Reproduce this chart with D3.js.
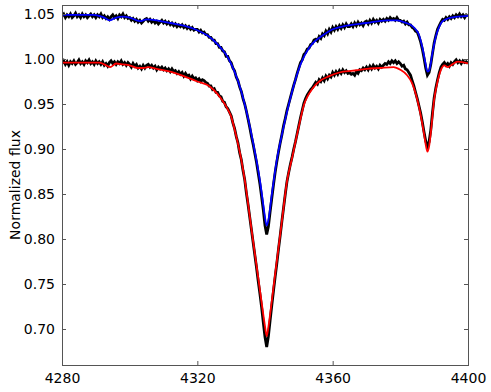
<!DOCTYPE html>
<html>
<head>
<meta charset="utf-8">
<script src="https://cdn.jsdelivr.net/npm/d3@7"></script>
<style>
  body { margin: 0; background: #fff; }
  svg { display: block; }
  text { font-family: "DejaVu Sans", sans-serif; }
</style>
</head>
<body>
<div id="chart"></div>
<script>
(function () {
    'use strict';

    // wavelength grid of the observed spectra (Angstrom)
    var obsStart = 4280;
    var obsStep = 0.5;

    // observed spectrum, lower one (normalized flux)
    var obsLower = [
        0.995, 0.998, 0.994, 0.997, 0.993, 0.997, 0.995, 0.998, 0.994, 0.996,
        0.999, 0.995, 0.997, 0.994, 0.998, 0.996, 0.999, 0.995, 0.997, 0.994,
        0.998, 0.995, 0.997, 0.994, 0.997, 0.993, 0.995, 0.992, 0.996, 0.998,
        0.995, 0.997, 0.994, 0.997, 0.995, 0.998, 0.994, 0.996, 0.993, 0.996,
        0.994, 0.991, 0.995, 0.992, 0.994, 0.990, 0.992, 0.989, 0.993, 0.990,
        0.993, 0.994, 0.991, 0.993, 0.990, 0.992, 0.988, 0.991, 0.989, 0.991,
        0.988, 0.990, 0.987, 0.989, 0.986, 0.989, 0.986, 0.987, 0.984, 0.986,
        0.983, 0.985, 0.981, 0.984, 0.981, 0.982, 0.978, 0.981, 0.978, 0.979,
        0.976, 0.978, 0.975, 0.977, 0.976, 0.974, 0.973, 0.970, 0.970, 0.966,
        0.967, 0.963, 0.963, 0.959, 0.958, 0.953, 0.952, 0.947, 0.945, 0.941,
        0.937, 0.929, 0.923, 0.914, 0.907, 0.896, 0.888, 0.876, 0.866, 0.851,
        0.838, 0.824, 0.810, 0.796, 0.782, 0.768, 0.753, 0.739, 0.724, 0.707,
        0.691, 0.680, 0.692, 0.709, 0.726, 0.742, 0.758, 0.773, 0.789, 0.804,
        0.820, 0.835, 0.850, 0.864, 0.874, 0.883, 0.891, 0.900, 0.908, 0.917,
        0.926, 0.935, 0.943, 0.951, 0.956, 0.960, 0.963, 0.966, 0.968, 0.971,
        0.974, 0.972, 0.977, 0.975, 0.979, 0.976, 0.981, 0.978, 0.982, 0.980,
        0.985, 0.982, 0.986, 0.983, 0.987, 0.984, 0.988, 0.985, 0.987, 0.984,
        0.985, 0.983, 0.984, 0.982, 0.986, 0.984, 0.988, 0.987, 0.990, 0.988,
        0.991, 0.988, 0.992, 0.989, 0.993, 0.990, 0.992, 0.989, 0.993, 0.991,
        0.993, 0.995, 0.994, 0.997, 0.995, 0.998, 0.996, 0.998, 0.995, 0.997,
        0.995, 0.992, 0.993, 0.989, 0.988, 0.985, 0.982, 0.976, 0.970, 0.963,
        0.956, 0.948, 0.940, 0.930, 0.919, 0.909, 0.903, 0.908, 0.921, 0.940,
        0.957, 0.968, 0.977, 0.985, 0.991, 0.994, 0.996, 0.993, 0.995, 0.992,
        0.996, 0.994, 0.997, 0.999, 0.996, 0.998, 0.995, 0.998, 0.996, 0.997,
        0.995
    ];

    // observed spectrum, upper one (shifted by +0.05)
    var obsUpper = [
        1.048, 1.050, 1.046, 1.049, 1.047, 1.050, 1.046, 1.048, 1.051, 1.047,
        1.049, 1.046, 1.050, 1.047, 1.049, 1.046, 1.048, 1.050, 1.047, 1.049,
        1.046, 1.049, 1.047, 1.050, 1.046, 1.048, 1.045, 1.047, 1.044, 1.047,
        1.049, 1.046, 1.048, 1.045, 1.049, 1.047, 1.050, 1.046, 1.048, 1.045,
        1.046, 1.043, 1.045, 1.042, 1.044, 1.041, 1.043, 1.040, 1.042, 1.044,
        1.045, 1.042, 1.044, 1.041, 1.043, 1.040, 1.042, 1.039, 1.041, 1.043,
        1.040, 1.042, 1.039, 1.041, 1.038, 1.040, 1.037, 1.039, 1.036, 1.038,
        1.036, 1.038, 1.035, 1.037, 1.034, 1.036, 1.033, 1.035, 1.032, 1.033,
        1.033, 1.030, 1.032, 1.029, 1.030, 1.027, 1.027, 1.024, 1.024, 1.021,
        1.021, 1.017, 1.017, 1.013, 1.013, 1.009, 1.008, 1.003, 1.003, 0.998,
        0.996, 0.990, 0.987, 0.980, 0.976, 0.969, 0.964, 0.956, 0.950, 0.942,
        0.933, 0.924, 0.914, 0.905, 0.895, 0.885, 0.873, 0.861, 0.847, 0.832,
        0.815, 0.805, 0.814, 0.830, 0.845, 0.860, 0.874, 0.886, 0.897, 0.907,
        0.916, 0.926, 0.934, 0.943, 0.950, 0.957, 0.964, 0.971, 0.977, 0.984,
        0.990, 0.996, 0.999, 1.005, 1.007, 1.011, 1.012, 1.016, 1.017, 1.021,
        1.022, 1.020, 1.025, 1.023, 1.028, 1.026, 1.031, 1.028, 1.033, 1.030,
        1.035, 1.032, 1.036, 1.033, 1.037, 1.034, 1.038, 1.035, 1.039, 1.036,
        1.036, 1.039, 1.036, 1.040, 1.037, 1.041, 1.038, 1.040, 1.037, 1.041,
        1.042, 1.039, 1.043, 1.040, 1.044, 1.041, 1.043, 1.040, 1.044, 1.042,
        1.044, 1.042, 1.045, 1.043, 1.046, 1.044, 1.045, 1.043, 1.046, 1.043,
        1.043, 1.041, 1.042, 1.039, 1.041, 1.038, 1.038, 1.035, 1.034, 1.031,
        1.030, 1.025, 1.019, 1.011, 1.001, 0.990, 0.982, 0.985, 0.994, 1.006,
        1.018, 1.026, 1.033, 1.037, 1.041, 1.044, 1.043, 1.046, 1.044, 1.047,
        1.045, 1.048, 1.046, 1.049, 1.047, 1.050, 1.047, 1.049, 1.046, 1.049,
        1.048
    ];

    // model fit, lower spectrum: [wavelength, flux]
    var modelLower = [
        [4280, 0.996], [4286, 0.996], [4291, 0.996], [4292.5, 0.994], [4294.2, 0.991],
        [4296, 0.995], [4298, 0.994], [4300, 0.993], [4302.5, 0.990], [4304, 0.990],
        [4305.5, 0.991], [4308, 0.989], [4312, 0.986], [4316, 0.981], [4320, 0.975],
        [4323, 0.971], [4325, 0.965], [4327, 0.956], [4329, 0.944], [4330, 0.936],
        [4331, 0.922], [4332, 0.906], [4333, 0.888], [4334, 0.866], [4336, 0.811],
        [4338, 0.757], [4339.5, 0.716], [4340, 0.703], [4340.5, 0.692], [4341, 0.702],
        [4341.5, 0.716], [4343, 0.761], [4345, 0.820], [4346.5, 0.864], [4348, 0.890],
        [4350, 0.925], [4351.5, 0.949], [4352.5, 0.958], [4354, 0.967], [4356, 0.975],
        [4359, 0.981], [4362, 0.985], [4366, 0.987], [4370, 0.989], [4374, 0.990],
        [4378, 0.991], [4380, 0.988], [4382, 0.982], [4383.5, 0.973], [4385, 0.955],
        [4386, 0.938], [4387, 0.917], [4387.5, 0.905], [4388, 0.897], [4388.5, 0.903],
        [4389, 0.918], [4390, 0.955], [4391, 0.975], [4392, 0.988], [4393, 0.993],
        [4394, 0.991], [4395, 0.993], [4397, 0.997], [4400, 0.995]
    ];

    // model fit, upper spectrum
    var modelUpper = [
        [4280, 1.049], [4289, 1.049], [4291, 1.048], [4292.5, 1.046], [4294, 1.043],
        [4296, 1.046], [4298, 1.047], [4300, 1.046], [4303, 1.042], [4305, 1.044],
        [4308, 1.043], [4312, 1.040], [4316, 1.037], [4320, 1.032], [4323, 1.026],
        [4325, 1.020], [4327, 1.012], [4329, 1.002], [4331, 0.986], [4333, 0.964],
        [4335, 0.934], [4337, 0.897], [4338.5, 0.865], [4339.5, 0.838], [4340, 0.824],
        [4340.5, 0.815], [4341, 0.821], [4342, 0.849], [4343.5, 0.888], [4345, 0.916],
        [4347, 0.949], [4349, 0.977], [4350.5, 0.994], [4352, 1.006], [4354, 1.017],
        [4357, 1.026], [4360, 1.033], [4364, 1.037], [4370, 1.040], [4376, 1.043],
        [4379, 1.043], [4381, 1.041], [4383, 1.038], [4384.5, 1.033], [4385.5, 1.027],
        [4386.5, 1.013], [4387.5, 0.994], [4388, 0.986], [4388.5, 0.987], [4389.5, 1.007],
        [4390.5, 1.025], [4391.5, 1.036], [4392.5, 1.042], [4394, 1.045], [4397, 1.047],
        [4400, 1.048]
    ];

    var xTicks = [4280, 4320, 4360, 4400];
    var yTicks = [0.70, 0.75, 0.80, 0.85, 0.90, 0.95, 1.00, 1.05];
    var yLabel = 'Normalized flux';

    var width = 491;
    var height = 392;
    var margin = { top: 5, right: 23, bottom: 27, left: 62 };
    var innerW = width - margin.left - margin.right;
    var innerH = height - margin.top - margin.bottom;
    var fontSize = '14px';

    var svg = d3.select('#chart').append('svg')
        .attr('width', width)
        .attr('height', height);

    var x = d3.scaleLinear().domain([4280, 4400]).range([0, innerW]);
    var y = d3.scaleLinear().domain([0.66, 1.06]).range([innerH, 0]);

    var g = svg.append('g')
        .attr('transform', 'translate(' + margin.left + ',' + margin.top + ')');

    g.append('clipPath').attr('id', 'plot-clip')
        .append('rect').attr('width', innerW).attr('height', innerH);

    var toPairs = function (arr) {
        return arr.map(function (v, i) { return [obsStart + i * obsStep, v]; });
    };

    var obsLine = d3.line()
        .x(function (d) { return x(d[0]); })
        .y(function (d) { return y(d[1]); });

    var modelLine = d3.line()
        .x(function (d) { return x(d[0]); })
        .y(function (d) { return y(d[1]); })
        .curve(d3.curveMonotoneX);

    var plot = g.append('g').attr('clip-path', 'url(#plot-clip)');

    var series = [
        { obs: obsLower, model: modelLower, color: '#ff0000' },
        { obs: obsUpper, model: modelUpper, color: '#0000ff' }
    ];

    series.forEach(function (s) {
        plot.append('path')
            .datum(toPairs(s.obs))
            .attr('fill', 'none')
            .attr('stroke', '#000')
            .attr('stroke-width', 2.8)
            .attr('stroke-linejoin', 'miter')
            .attr('d', obsLine);

        plot.append('path')
            .datum(s.model)
            .attr('fill', 'none')
            .attr('stroke', s.color)
            .attr('stroke-width', 1.8)
            .attr('d', modelLine);
    });

    // axes: ticks point inward, mirrored on top and right
    var tickLen = 4;
    var fmtY = d3.format('.2f');
    var fmtX = d3.format('d');

    var xAxis = g.append('g')
        .attr('transform', 'translate(0,' + innerH + ')')
        .call(d3.axisBottom(x).tickValues(xTicks).tickSizeInner(-tickLen).tickSizeOuter(0).tickPadding(8).tickFormat(fmtX));
    var xTop = g.append('g')
        .call(d3.axisTop(x).tickValues(xTicks).tickSizeInner(-tickLen).tickSizeOuter(0).tickFormat(''));
    var yAxis = g.append('g')
        .call(d3.axisLeft(y).tickValues(yTicks).tickSizeInner(-tickLen).tickSizeOuter(0).tickPadding(7).tickFormat(fmtY));
    var yRight = g.append('g')
        .attr('transform', 'translate(' + innerW + ',0)')
        .call(d3.axisRight(y).tickValues(yTicks).tickSizeInner(-tickLen).tickSizeOuter(0).tickFormat(''));

    [xAxis, xTop, yAxis, yRight].forEach(function (a) {
        a.select('.domain').remove();
        a.selectAll('line').attr('stroke', '#555');
        a.selectAll('text')
            .attr('fill', '#000')
            .style('font-size', fontSize)
            .style('font-family', '"DejaVu Sans", sans-serif');
    });

    g.append('rect')
        .attr('x', 0.5).attr('y', 0.5)
        .attr('width', innerW).attr('height', innerH)
        .attr('fill', 'none')
        .attr('stroke', '#555')
        .attr('stroke-width', 1);

    svg.append('text')
        .attr('transform', 'translate(15,' + (margin.top + innerH / 2) + ') rotate(-90)')
        .attr('text-anchor', 'middle')
        .attr('dy', '0.35em')
        .style('font-size', fontSize)
        .text(yLabel);
})();
</script>
</body>
</html>
